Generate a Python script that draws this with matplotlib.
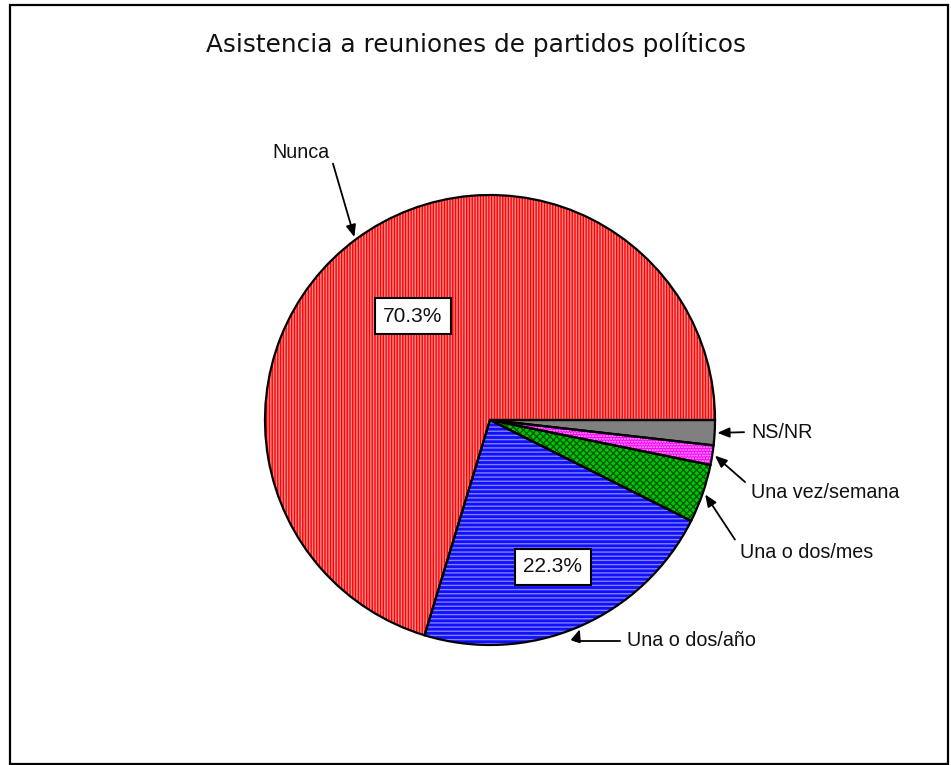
import matplotlib
matplotlib.use('Agg')
import matplotlib.pyplot as plt
import numpy as np
from matplotlib.patches import Rectangle

title = "Asistencia a reuniones de partidos políticos"
categories = ["Nunca", "Una o dos/año", "Una o dos/mes", "Una vez/semana", "NS/NR"]
values = [70.3, 22.3, 4.2, 1.4, 1.8]
pct_labels = ["70.3%", "22.3%", "", "", ""]

colors = ['#ff0000', '#1010ff', '#00c800', '#ff00ff', '#808080']
hatch_colors = ['#ff8c8c', '#8080ff', '#005a00', '#ffb0ff', '#808080']
hatches = ['||||||', '----', 'xxxxx', '......', None]

plt.rcParams['hatch.linewidth'] = 1.0

W, H = 951, 765
fig = plt.figure(figsize=(W / 100, H / 100), dpi=100)
ax = fig.add_axes([0, 0, 1, 1])

cx, cy, R = 490, 345, 225

wedges, _ = ax.pie(values, colors=colors, startangle=0, counterclock=True,
                   center=(cx, cy), radius=R, frame=True,
                   wedgeprops=dict(linewidth=0))
for w, hc, h in zip(wedges, hatch_colors, hatches):
    if h:
        w.set_hatch(h)
        w.set_edgecolor(hc)
        w.set_linewidth(0)

outline, _ = ax.pie(values, colors=['none'] * len(values), startangle=0,
                    counterclock=True, center=(cx, cy), radius=R, frame=True,
                    wedgeprops=dict(fill=False, edgecolor='black', linewidth=1.6))

ax.set_xlim(0, W)
ax.set_ylim(0, H)
ax.axis('off')

def mid_point(w, r):
    a = np.deg2rad((w.theta1 + w.theta2) / 2)
    return cx + r * np.cos(a), cy + r * np.sin(a)

# percentage boxes
pct_r = [0.575, 0.71, 0, 0, 0]
for w, lab, fr in zip(wedges, pct_labels, pct_r):
    if lab:
        x, y = mid_point(w, fr * R)
        ax.text(x, y, lab, ha='center', va='center', fontsize=15,
                family='Liberation Sans', color='#111111',
                bbox=dict(boxstyle='square,pad=0.42', facecolor='white',
                          edgecolor='black', linewidth=1.5))

# category labels with arrows
text_pos = [(329, 765 - 152), (627, 765 - 641), (740, 765 - 552),
            (751, 765 - 492), (751, 765 - 432)]
text_ha = ['right', 'left', 'left', 'left', 'left']
relpos = [(1.0, 0.6), (0.0, 0.5), (0.0, 0.75), (0.0, 0.75), (0.0, 0.5)]
conn = ['arc3', 'angle,angleA=0,angleB=72,rad=0', 'arc3', 'arc3', 'arc3']
for w, lab, tp, ha, rp, cs in zip(wedges, categories, text_pos, text_ha, relpos, conn):
    tip = mid_point(w, R * 1.012)
    ax.annotate(lab, xy=tip, xytext=tp, textcoords='data', ha=ha, va='center',
                fontsize=14.2, family='Liberation Sans', color='#111111',
                arrowprops=dict(arrowstyle='-|>,head_length=0.6,head_width=0.25',
                                color='black', lw=1.3, relpos=rp,
                                connectionstyle=cs, shrinkA=3, shrinkB=0,
                                mutation_scale=12))

ax.text(476, H - 44, title, ha='center', va='center', fontsize=17.8,
        family='DejaVu Sans', color='#111111')

ax.add_patch(Rectangle((10, 1.5), 938, 759, fill=False, edgecolor='black',
                       linewidth=1.6, clip_on=False))

fig.savefig('out.png', dpi=100)
